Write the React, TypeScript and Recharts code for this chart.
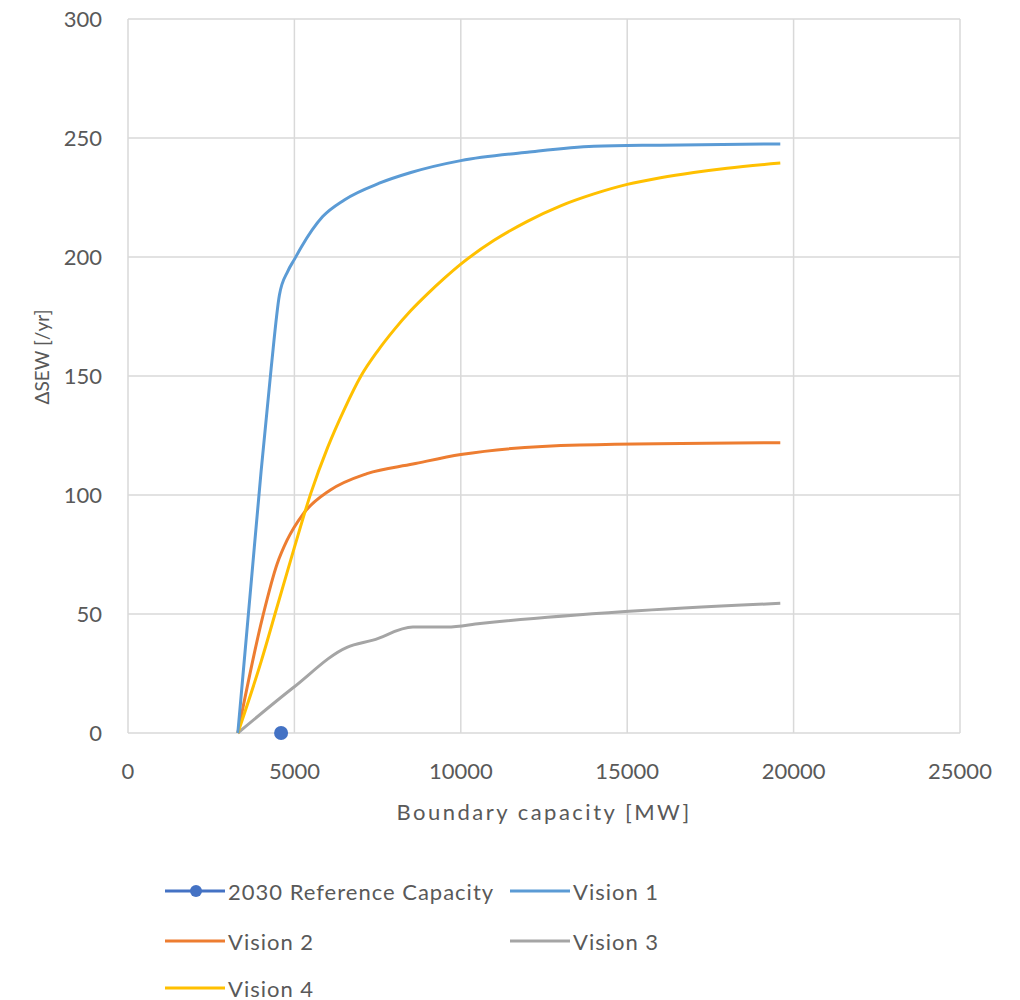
import React from 'react';
import { LineChart, Line, XAxis, YAxis, CartesianGrid, Legend, Label } from 'recharts';

const FONT = 'Lato, "Open Sans", sans-serif';
const TEXT = '#595959';

const xTicks = [0, 5000, 10000, 15000, 20000, 25000];
const yTicks = [0, 50, 100, 150, 200, 250, 300];

const refCapacity = [4600];
const refSew = [0];

const v1Capacity = [3300, 3700, 4000, 4300, 4550, 4800, 5000, 5200, 5850, 6500, 7550, 8500, 10000, 12000, 14000, 16000, 19600];
const v1Sew = [0, 63, 110, 153, 184, 194, 199, 204, 217, 224, 231, 235.5, 240.5, 244, 246.5, 247, 247.5];

const v2Capacity = [3300, 4050, 4480, 4780, 5260, 6070, 7180, 8560, 10000, 13580, 19600];
const v2Sew = [0, 49, 71, 81, 92, 102, 109, 113, 117, 121, 122];

const v3Capacity = [3300, 4960, 6580, 7360, 8560, 9590, 10580, 14940, 19600];
const v3Sew = [0, 19, 36, 39, 44.5, 44.5, 46, 51, 54.5];

const v4Capacity = [3300, 4000, 4500, 5000, 5500, 6000, 6500, 7000, 7500, 8000, 8500, 9000, 9500, 10000, 11000, 12000, 13000, 14000, 15000, 16000, 17000, 18000, 19600];
const v4Sew = [0, 30, 54, 78, 101, 120, 136, 150, 160.5, 169.5, 177.5, 184.5, 191, 197, 207, 215, 221.5, 226.5, 230.5, 233.3, 235.5, 237.3, 239.5];

const seriesNames = ['2030 Reference Capacity', 'Vision 1', 'Vision 2', 'Vision 3', 'Vision 4'];
const seriesColors = ['#4472C4', '#5B9BD5', '#ED7D31', '#A5A5A5', '#FFC000'];

const toPoints = (xs: number[], ys: number[]) => xs.map((x, i) => ({ x, y: ys[i] }));

const refData = toPoints(refCapacity, refSew);
const v1Data = toPoints(v1Capacity, v1Sew);
const v2Data = toPoints(v2Capacity, v2Sew);
const v3Data = toPoints(v3Capacity, v3Sew);
const v4Data = toPoints(v4Capacity, v4Sew);

const legendLayout = [
  { idx: 0, left: 165, top: 16 },
  { idx: 1, left: 510, top: 16 },
  { idx: 2, left: 165, top: 66 },
  { idx: 3, left: 510, top: 66 },
  { idx: 4, left: 165, top: 113 },
];

const renderLegend = () => (
  <div style={{ position: 'relative', width: 1020, height: 140, fontFamily: FONT }}>
    {legendLayout.map((it) => (
      <div
        key={it.idx}
        style={{ position: 'absolute', left: it.left, top: it.top, height: 30, display: 'flex', alignItems: 'center' }}
      >
        <svg width={60} height={30} style={{ display: 'block' }}>
          <line x1={0} y1={15} x2={60} y2={15} stroke={seriesColors[it.idx]} strokeWidth={3} />
          {it.idx === 0 && <circle cx={31} cy={15} r={6} fill={seriesColors[0]} />}
        </svg>
        <span style={{ marginLeft: 3, fontSize: 22, letterSpacing: 1, color: TEXT, whiteSpace: 'nowrap' }}>
          {seriesNames[it.idx]}
        </span>
      </div>
    ))}
  </div>
);

export default function App() {
  return (
    <div style={{ position: 'absolute', left: 0, top: 0, width: 1020, height: 1000, background: '#fff' }}>
      <LineChart width={1020} height={1000} margin={{ top: 19, right: 60, bottom: 177, left: 0 }}>
        <CartesianGrid stroke="#d9d9d9" strokeWidth={1.5} />
        <XAxis
          type="number"
          dataKey="x"
          domain={[0, 25000]}
          ticks={xTicks}
          height={90}
          axisLine={false}
          tickLine={false}
          tickSize={0}
          tickMargin={30}
          tick={{ fill: TEXT, fontSize: 22, fontFamily: FONT }}
        >
          <Label
            value="Boundary capacity [MW]"
            position="insideTop"
            offset={71}
            style={{ fill: TEXT, fontSize: 22, fontFamily: FONT, letterSpacing: 2.5 }}
          />
        </XAxis>
        <YAxis
          type="number"
          dataKey="y"
          domain={[0, 300]}
          ticks={yTicks}
          width={128}
          axisLine={false}
          tickLine={false}
          tickSize={0}
          tickMargin={26}
          tick={{ fill: TEXT, fontSize: 22, fontFamily: FONT }}
        >
          <Label
            content={(props: any) => {
              const vb = props.viewBox || { x: 0, y: 19, width: 128, height: 714 };
              const cx = vb.x + 41;
              const cy = vb.y + vb.height / 2 - 19;
              return (
                <text
                  x={cx}
                  y={cy}
                  transform={`rotate(-90 ${cx} ${cy})`}
                  textAnchor="middle"
                  dominantBaseline="central"
                  fill={TEXT}
                  fontSize={19}
                  fontFamily={FONT}
                >
                  ΔSEW  [/yr]
                </text>
              );
            }}
          />
        </YAxis>
        <Line data={v3Data} dataKey="y" name={seriesNames[3]} type="monotone" stroke={seriesColors[3]} strokeWidth={3} dot={false} isAnimationActive={false} />
        <Line data={v2Data} dataKey="y" name={seriesNames[2]} type="monotone" stroke={seriesColors[2]} strokeWidth={3} dot={false} isAnimationActive={false} />
        <Line data={v4Data} dataKey="y" name={seriesNames[4]} type="monotone" stroke={seriesColors[4]} strokeWidth={3} dot={false} isAnimationActive={false} />
        <Line data={v1Data} dataKey="y" name={seriesNames[1]} type="monotone" stroke={seriesColors[1]} strokeWidth={3} dot={false} isAnimationActive={false} />
        <Line
          data={refData}
          dataKey="y"
          name={seriesNames[0]}
          stroke={seriesColors[0]}
          strokeWidth={0}
          dot={{ r: 7, fill: seriesColors[0], stroke: 'none' }}
          isAnimationActive={false}
        />
        <Legend
          layout="vertical"
          align="center"
          verticalAlign="middle"
          wrapperStyle={{ left: 0, top: 860, width: 1020, height: 140 }}
          content={renderLegend}
        />
      </LineChart>
    </div>
  );
}
